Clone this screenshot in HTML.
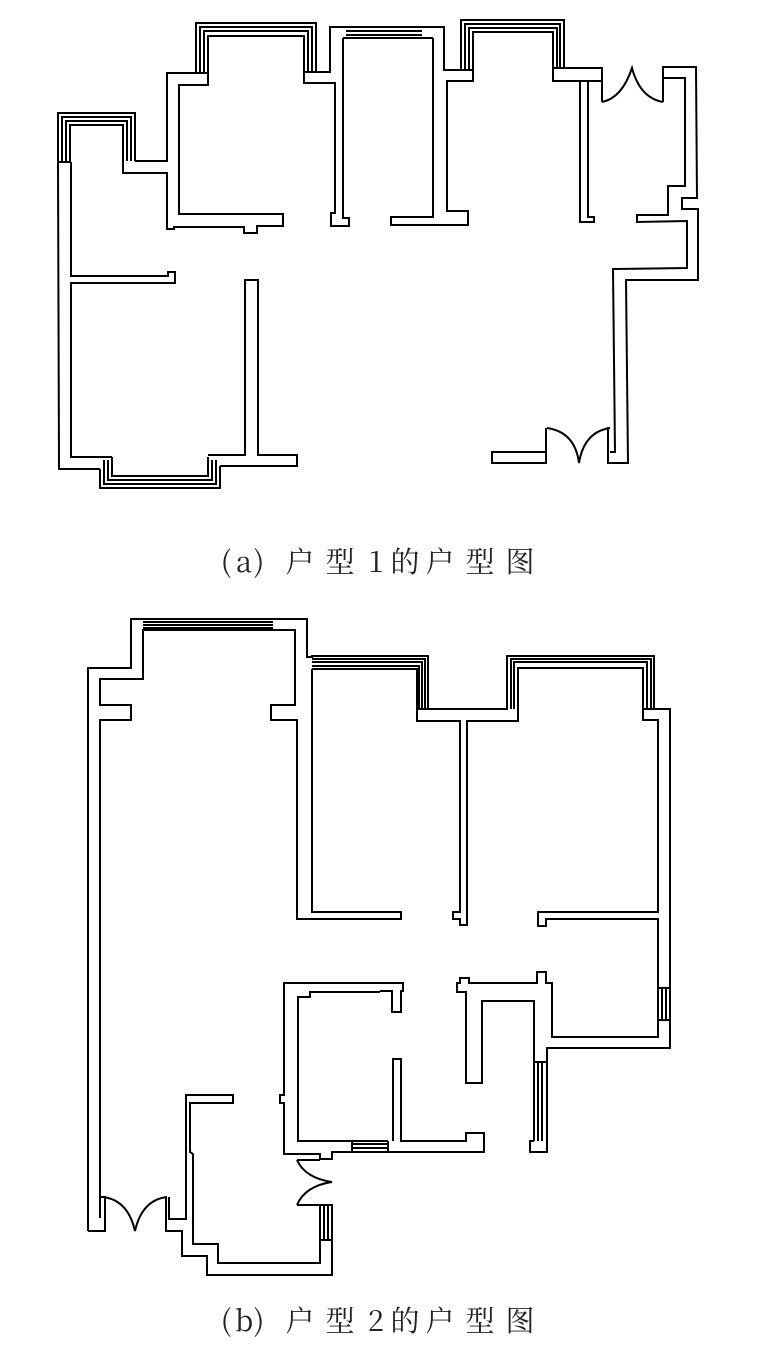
<!DOCTYPE html>
<html><head><meta charset="utf-8"><style>
html,body{margin:0;padding:0;background:#fff;}
svg{display:block}
</style></head><body>
<svg width="758" height="1357" viewBox="0 0 758 1357" xmlns="http://www.w3.org/2000/svg">
<g fill="none" stroke="#000" stroke-width="2" stroke-linejoin="miter">
<!-- ===== PLAN 1 ===== -->
<path d="M58,162 L58,113 L135,113 L135,161"/>
<path d="M62,162 L62,117 L131,117 L131,161"/>
<path d="M66,162 L66,121 L127,121 L127,161"/>
<path d="M70,162 L70,125 L123,125 L123,162"/>
<path d="M58,162 L70,162"/>
<path d="M58,162 L59,469 L100,469"/>
<path d="M71,162 L71,276 L168,276 L168,272 L175,272 L175,283 L71,283 L71,457 L112,457"/>
<path d="M100,469 L100,488 L220,488 L220,466"/>
<path d="M104,460 L104,484 L216,484 L216,460"/>
<path d="M108,460 L108,480 L212,480 L212,460"/>
<path d="M112,457 L112,476 L208,476 L208,457"/>
<path d="M220,466 L297,466 L297,455 L258,455 L258,280 L245,280 L245,455 L208,455"/>
<path d="M135,161 L167,161 L167,73 L196,73 L196,23 L316,23 L316,72 L330,72 L330,27 L346,27"/>
<path d="M200,73 L200,27 L312,27 L312,72"/>
<path d="M204,73 L204,31 L308,31 L308,72"/>
<path d="M123,162 L123,173 L167,173 L167,229 L174,229 L174,227 L244,227 L244,233 L257,233 L257,226 L283,226 L283,214 L179,214 L179,85 L208,85 L208,36 L304,36 L304,83 L335,83 L335,213 L331,213 L331,226 L349,226 L349,218 L343,218 L343,38"/>
<path d="M196,73 L208,73"/><path d="M304,72 L316,72"/>
<path d="M346,27 L422,27"/><path d="M346,31 L422,31"/><path d="M346,35 L422,35"/><path d="M343,38 L433,38"/>
<path d="M422,27 L444,27 L444,70 L461,70 L461,20 L564,20 L564,68 L602,68 L602,102"/>
<path d="M433,38 L433,217 L391,217 L391,225 L468,225 L468,211 L447,211 L447,81 L473,81 L473,32 L553,32 L553,81 L588,81 L588,217 L594,217 L594,222 L580,222 L580,81"/>
<path d="M465,70 L465,24 L560,24 L560,68"/>
<path d="M469,70 L469,28 L557,28 L557,68"/>
<path d="M461,70 L473,70"/><path d="M553,68 L564,68"/>
<path d="M588,81 L602,81"/>
<path d="M602,102 Q622,98 632,68 Q640,98 663,102"/>
<path d="M663,102 L663,67 L696,67 L697,198 L682,198 L682,209 L698,209 L698,280 L626,280 L628,463 L608,463 L608,428 L610,428"/>
<path d="M663,78 L685,78 L685,186 L668,186 L668,215 L637,215 L637,222 L687,221 L687,268 L613,269 L615,452 L610,452"/>
<path d="M546,428 L546,463 L492,463 L492,452 L546,452"/>
<path d="M547,428 Q575,432 579,463 Q584,432 610,428"/>
<!-- ===== PLAN 2 ===== -->
<path d="M88,1231 L88,668 L131,668 L131,619 L307,619 L307,657 L312,657 L312,656 L428,656 L428,709 L507,709 L507,656 L654,656 L654,709 L670,709 L670,1048 L547,1048 L547,1152 L530,1152 L530,1141 L534,1141"/>
<path d="M143,622 L273,622"/><path d="M143,625 L273,625"/><path d="M143,628 L273,628"/>
<path d="M100,1218 L100,720 L131,720 L131,705 L100,705 L100,679 L143,679 L143,630 L295,630 L295,705 L271,705 L271,720 L297,720 L297,919 L401,919 L401,912 L312,912 L312,669"/>
<path d="M312,659 L425,659 L425,709"/><path d="M312,662 L422,662 L422,709"/><path d="M312,666 L419,666 L419,709"/>
<path d="M312,669 L417,669 L417,721 L460,721 L460,912 L453,912 L453,919 L460,919 L460,925 L467,925 L467,721 L518,721 L518,668 L643,668 L643,720 L658,720 L658,912 L538,912 L538,926 L546,926 L546,919 L658,919 L658,1037 L552,1037 L552,983 L546,983 L546,972 L537,972 L537,983 L469,983 L469,978 L460,978 L460,983 L457,983 L457,992 L466,992 L466,1083 L482,1083 L482,1001 L534,1001 L534,1141"/>
<path d="M428,709 L417,709"/>
<path d="M511,709 L511,659 L651,659 L651,709"/><path d="M514,709 L514,662 L647,662 L647,709"/>
<path d="M643,709 L654,709"/>
<path d="M658,988 L670,988 M658,1020 L670,1020 M662,988 L662,1020 M666,988 L666,1020"/>
<path d="M538,1062 L538,1141 M542,1062 L542,1141 M534,1062 L547,1062"/>
<path d="M380,983 L403,983 L403,991 L401,991 L401,1012 L392,1012 L392,991 L380,991"/>
<path d="M393,1141 L393,1059 L401,1059 L401,1141 L466,1141 L466,1133 L484,1133 L484,1152 L388,1152"/>
<path d="M380,983 L284,983 L284,1095 L280,1095 L280,1103 L284,1103 L284,1154 L320,1154 L320,1159 L332,1159 L332,1152 L388,1152"/>
<path d="M380,992 L310,992 L310,997 L298,997 L298,1141 L388,1141"/>
<path d="M352,1141 L352,1152 M352,1144 L388,1144 M352,1148 L388,1148 M388,1141 L388,1152"/>
<path d="M297,1160 Q305,1178 332,1182 Q305,1186 297,1205"/>
<path d="M297,1160 L320,1160"/>
<path d="M297,1205 L332,1205 L332,1275 L207,1275 L207,1256 L182,1256 L182,1231 L166,1231 L166,1197"/>
<path d="M320,1205 L320,1263 L218,1263 L218,1244 L193,1244 L193,1154 L190,1152 L190,1103 L233,1103 L233,1095 L186,1095 L186,1219 L169,1219 L169,1197"/>
<path d="M320,1240 L332,1240 M324,1205 L324,1240 M328,1205 L328,1240"/>
<path d="M88,1231 L105,1231 L105,1197 L100,1197 L100,1218"/>
<path d="M103,1197 Q128,1200 135,1231 Q142,1200 167,1197"/>
</g>
<g font-family="'Noto Serif CJK SC','Liberation Serif',serif" font-size="29" fill="#222" text-anchor="middle">
<text x="226" y="572">(</text><text x="244" y="572">a</text><text x="259" y="572">)</text>
<text x="300" y="572">户</text><text x="340" y="572">型</text><text x="376" y="572">1</text>
<text x="405" y="572">的</text><text x="440" y="572">户</text><text x="480" y="572">型</text><text x="520" y="572">图</text>
<text x="226" y="1331">(</text><text x="244" y="1331">b</text><text x="259" y="1331">)</text>
<text x="300" y="1331">户</text><text x="340" y="1331">型</text><text x="376" y="1331">2</text>
<text x="405" y="1331">的</text><text x="440" y="1331">户</text><text x="480" y="1331">型</text><text x="520" y="1331">图</text>
</g>
</svg>
</body></html>
